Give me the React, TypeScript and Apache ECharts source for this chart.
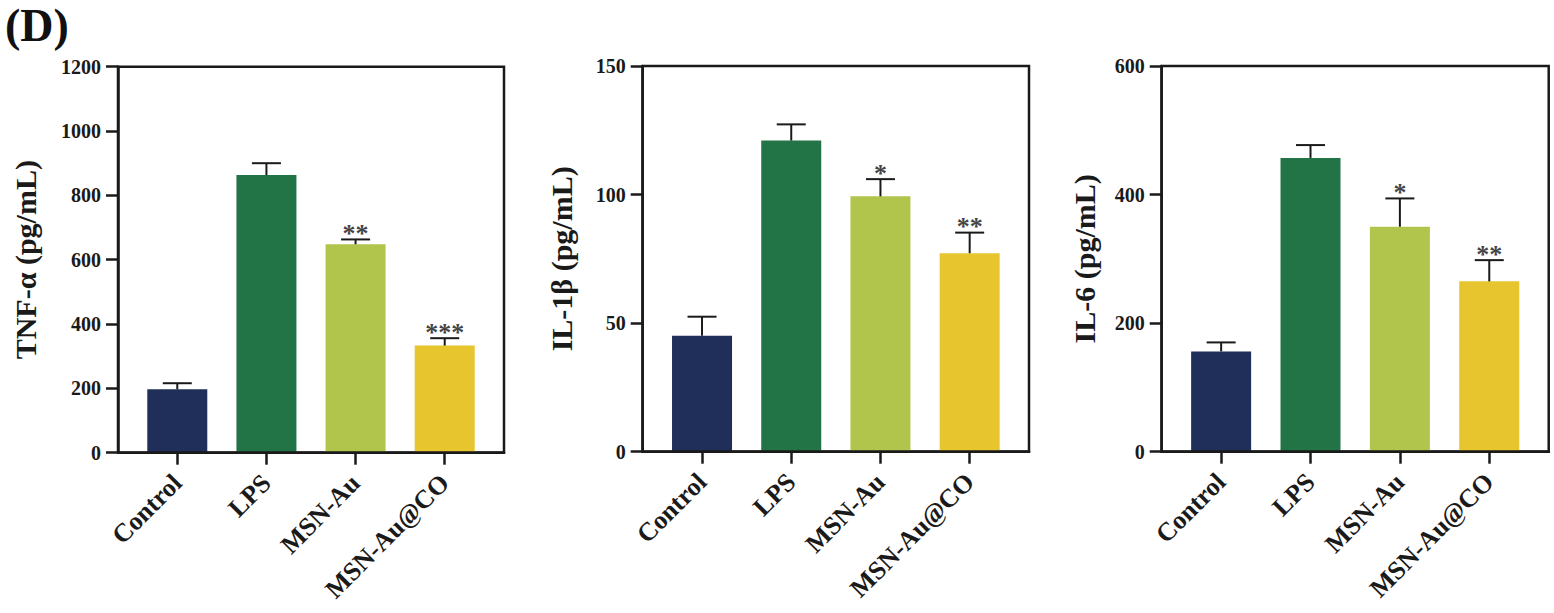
import React, { useEffect, useRef } from "react";
import * as echarts from "echarts";

const categories = ["Control", "LPS", "MSN-Au", "MSN-Au@CO"];
const barColors = ["#1f2f5a", "#227446", "#b1c54c", "#e6c52e"];

const tnfMean = [197, 863, 648, 333];
const tnfErr = [19, 37, 15, 23];
const tnfSig = ["", "", "**", "***"];

const il1bMean = [45.1, 121, 99.3, 77.2];
const il1bErr = [7.4, 6.3, 6.7, 8.0];
const il1bSig = ["", "", "*", "**"];

const il6Mean = [156, 457, 350, 265];
const il6Err = [14, 20, 44, 33];
const il6Sig = ["", "", "*", "**"];

const panels = [
  { name: "TNF-α (pg/mL)", mean: tnfMean, err: tnfErr, sig: tnfSig, max: 1200, interval: 200, left: 118, top: 66.7, width: 386, height: 386, nameGap: 78 },
  { name: "IL-1β (pg/mL)", mean: il1bMean, err: il1bErr, sig: il1bSig, max: 150, interval: 50, left: 642.7, top: 66, width: 386.3, height: 385.7, nameGap: 66 },
  { name: "IL-6 (pg/mL)", mean: il6Mean, err: il6Err, sig: il6Sig, max: 600, interval: 200, left: 1161.7, top: 66, width: 387, height: 385.7, nameGap: 62 },
];

const FONT = "'Liberation Serif', 'Times New Roman', serif";
const INK = "#1a1a1a";

export default function App() {
  const ref = useRef<HTMLDivElement>(null);
  useEffect(() => {
    document.body.style.margin = "0";
    if (!ref.current) return;
    const chart = echarts.init(ref.current, undefined, { renderer: "svg" });
    const grid: any[] = [];
    const xAxis: any[] = [];
    const yAxis: any[] = [];
    const series: any[] = [];
    panels.forEach((p, k) => {
      grid.push({ left: p.left, top: p.top, width: p.width, height: p.height, show: true, borderColor: INK, borderWidth: 2.5, backgroundColor: "transparent" });
      xAxis.push({
        type: "value", gridIndex: k, min: -0.665, max: 3.665, z: 10,
        axisLine: { show: true, onZero: false, lineStyle: { color: INK, width: 2.5 } },
        axisTick: { show: true, customValues: [0, 1, 2, 3], length: 12, lineStyle: { color: INK, width: 2.5 } },
        axisLabel: {
          customValues: [0, 1, 2, 3], rotate: 45, margin: 26,
          formatter: (v: number) => categories[Math.round(v)] ?? "",
          fontFamily: FONT, fontWeight: "bold", fontSize: 26, color: INK,
        },
        splitLine: { show: false },
      });
      yAxis.push({
        type: "value", gridIndex: k, min: 0, max: p.max, interval: p.interval, z: 10,
        name: p.name, nameLocation: "middle", nameGap: p.nameGap,
        nameTextStyle: { fontFamily: FONT, fontWeight: "bold", fontSize: 30, color: INK },
        axisLine: { show: true, onZero: false, lineStyle: { color: INK, width: 2.5 } },
        axisTick: { show: true, length: 12, lineStyle: { color: INK, width: 2.5 } },
        axisLabel: { margin: 17, fontFamily: FONT, fontWeight: "bold", fontSize: 20, color: INK, formatter: (v: number) => String(v) },
        splitLine: { show: false },
      });
      series.push({
        type: "bar", xAxisIndex: k, yAxisIndex: k, barWidth: 60,
        data: p.mean.map((v, i) => ({ value: [i, v], itemStyle: { color: barColors[i] } })),
      });
      series.push({
        type: "custom", xAxisIndex: k, yAxisIndex: k, z: 5,
        data: p.mean.map((v, i) => [i, v, p.err[i], i]),
        renderItem: (params: any, api: any) => {
          const i = api.value(0);
          const m = api.value(1);
          const e = api.value(2);
          const idx = api.value(3);
          const base = api.coord([i, m]);
          const top = api.coord([i, m + e]);
          const hw = 14.5;
          const children: any[] = [
            { type: "line", shape: { x1: base[0], y1: base[1], x2: top[0], y2: top[1] }, style: { stroke: INK, lineWidth: 2 } },
            { type: "line", shape: { x1: top[0] - hw, y1: top[1], x2: top[0] + hw, y2: top[1] }, style: { stroke: INK, lineWidth: 2 } },
          ];
          const s = p.sig[idx];
          if (s) {
            children.push({
              type: "text", x: top[0], y: top[1] - 6,
              style: { text: s, fontSize: 26, fontWeight: "bold", fontFamily: FONT, fill: "#444", align: "center", verticalAlign: "middle" },
            });
          }
          return { type: "group", children };
        },
      });
    });
    chart.setOption({
      animation: false,
      backgroundColor: "#ffffff",
      grid, xAxis, yAxis, series,
      graphic: [
        { type: "text", left: 5, top: 2, style: { text: "(D)", fontSize: 46, fontWeight: "bold", fontFamily: FONT, fill: "#111" } },
      ],
    });
    return () => chart.dispose();
  }, []);
  return <div ref={ref} style={{ width: 1554, height: 613 }} />;
}
